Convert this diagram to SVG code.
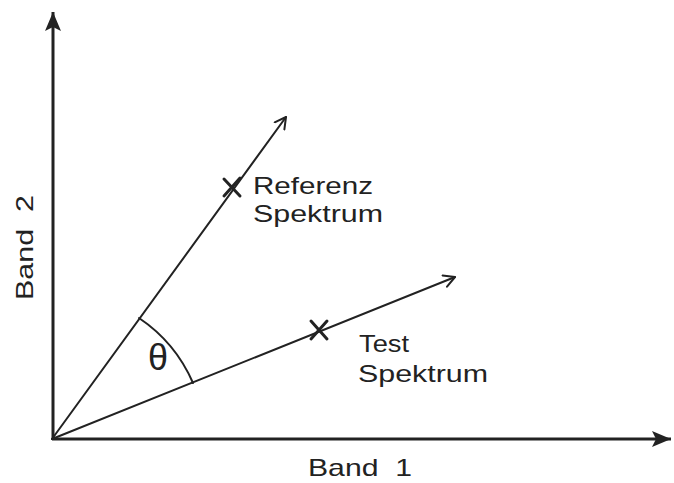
<svg xmlns="http://www.w3.org/2000/svg" width="674" height="483" viewBox="0 0 674 483">
<style>
.axis{stroke:#222;stroke-width:3;fill:none}
.vec{stroke:#222;stroke-width:2;fill:none;stroke-linecap:round}
.mark{stroke:#222;stroke-width:3;fill:none;stroke-linecap:round}
.txt{font-family:"Liberation Sans",Arial,sans-serif;font-size:24px;fill:#222;white-space:pre}
</style>
<defs>
<marker id="open" viewBox="0 0 14 14" refX="12" refY="7" markerWidth="14" markerHeight="14" markerUnits="userSpaceOnUse" orient="auto">
<path d="M1,1 L12,7 L1,13" fill="none" stroke="#222" stroke-width="2" stroke-linecap="round" stroke-linejoin="round"/>
</marker>
<marker id="solid" viewBox="0 0 20 20" refX="19" refY="10" markerWidth="20" markerHeight="20" markerUnits="userSpaceOnUse" orient="auto">
<path d="M0,2 L19,10 L0,18 L4,10 Z" fill="#222"/>
</marker>
</defs>
<g id="axes">
<line class="axis" x1="53" y1="440" x2="53" y2="12" marker-end="url(#solid)"/>
<line class="axis" x1="52" y1="439" x2="671" y2="439" marker-end="url(#solid)"/>
</g>
<g id="connectors">
<line class="vec" x1="52" y1="439" x2="286" y2="117" marker-end="url(#open)"/>
<line class="vec" x1="52" y1="439" x2="455" y2="277" marker-end="url(#open)"/>
<path class="vec" d="M139,318 A150,150 0 0 1 193,383"/>
</g>
<g id="reference">
<path class="mark" d="M224,179 L240,196 M240,178 L224,196"/>
<text class="txt" x="253" y="194" textLength="120" lengthAdjust="spacingAndGlyphs">Referenz</text>
<text class="txt" x="253" y="222" textLength="130" lengthAdjust="spacingAndGlyphs">Spektrum</text>
</g>
<g id="test">
<path class="mark" d="M311,321 L327,339 M327,321 L311,339"/>
<text class="txt" x="359" y="352" textLength="50" lengthAdjust="spacingAndGlyphs">Test</text>
<text class="txt" x="358" y="382" textLength="130" lengthAdjust="spacingAndGlyphs">Spektrum</text>
</g>
<g id="theta">
<text class="txt" x="158" y="370" text-anchor="middle" style="font-size:36px">θ</text>
</g>
<g id="labels">
<text class="txt" x="308" y="476" textLength="104" lengthAdjust="spacingAndGlyphs" xml:space="preserve">Band  1</text>
<text class="txt" transform="translate(33,300) rotate(-90)" x="0" y="0" textLength="105" lengthAdjust="spacingAndGlyphs" xml:space="preserve">Band  2</text>
</g>
</svg>
